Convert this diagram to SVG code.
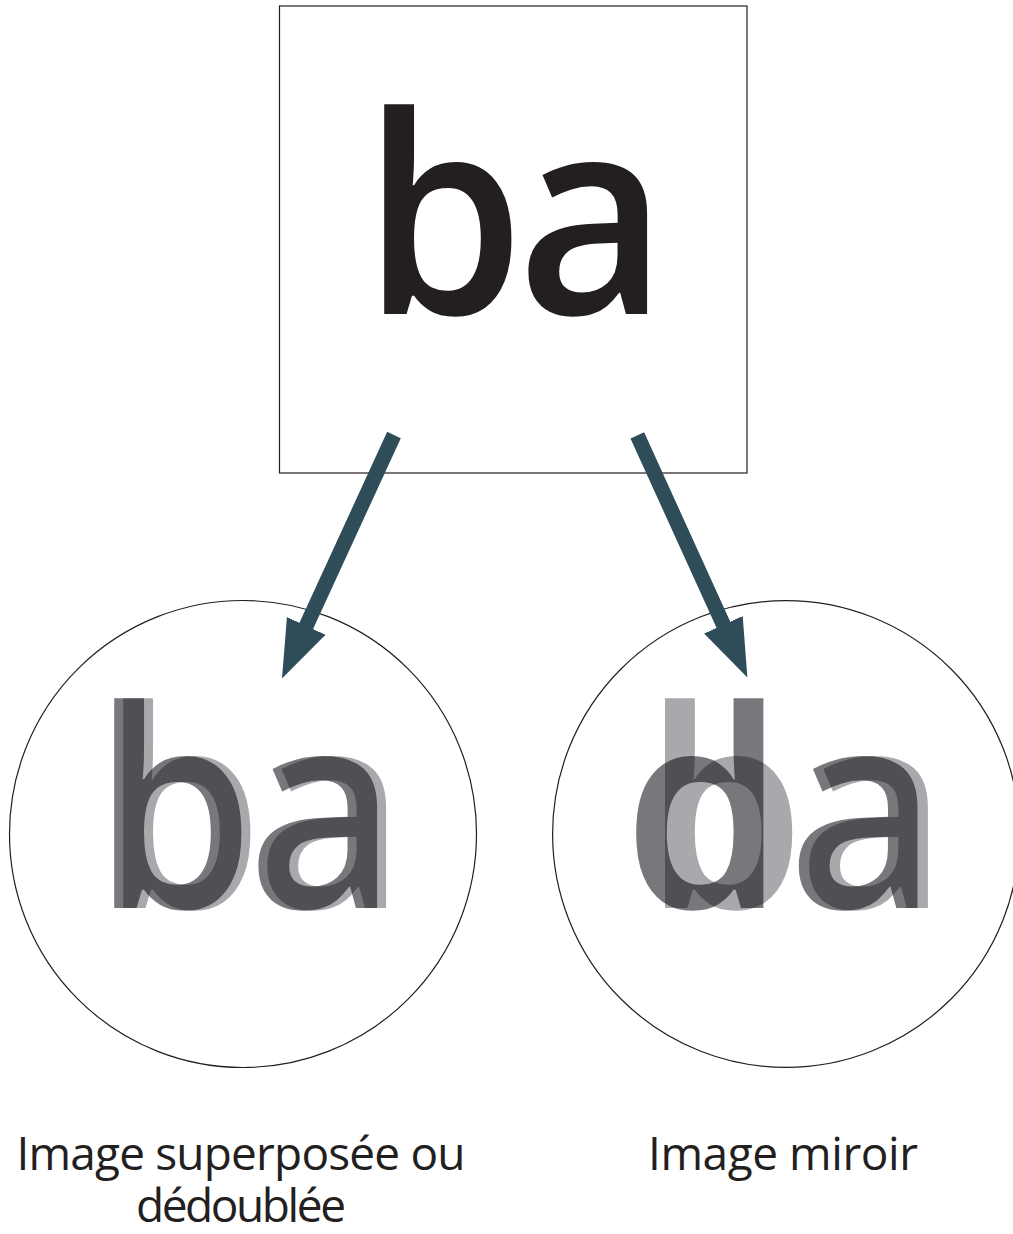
<svg xmlns="http://www.w3.org/2000/svg" width="1013" height="1234" viewBox="0 0 1013 1234">
<style>
.frame{fill:none;stroke:#231f20;stroke-width:1.2}
.big{font-family:"Open Sans","Noto Sans",sans-serif;font-size:276px;font-weight:600;letter-spacing:-8px}
.ink{fill:#231f20}
.mid{fill:#77787b;mix-blend-mode:multiply}
.light{fill:#a7a9ac;mix-blend-mode:multiply}
.label{font-family:"Open Sans","Noto Sans",sans-serif;font-size:46px;font-weight:500;fill:#231f20;text-anchor:middle}
.conn{stroke:#2f4d59;stroke-width:15;fill:none}
</style>
<defs>
<marker id="head" markerUnits="userSpaceOnUse" markerWidth="60" markerHeight="44" refX="1" refY="21.2" orient="auto" viewBox="0 0 60 44">
<path d="M0,0 L58,21.2 L0,42.4 Z" fill="#2f4d59"/>
</marker>
</defs>
<rect width="1013" height="1234" fill="#ffffff"/>
<g id="source">
<rect class="frame" x="279.5" y="6" width="467.5" height="467"/>
<text class="big ink" transform="translate(363 0) scale(0.94 1)" x="0" y="314">ba</text>
</g>
<g id="superposee">
<circle class="frame" cx="243" cy="834" r="233.5"/>
<g style="isolation:isolate">
<text class="big mid" transform="translate(93 0) scale(0.94 1)" x="0" y="908">ba</text>
<text class="big light" transform="translate(102 0) scale(0.94 1)" x="0" y="908">ba</text>
</g>
<text class="label" x="241" y="1170" textLength="449">Image superposée ou</text>
<text class="label" x="241" y="1222" textLength="210">dédoublée</text>
</g>
<g id="miroir">
<circle class="frame" cx="786" cy="834" r="233.4"/>
<g style="isolation:isolate">
<text class="big light" transform="translate(643.8 0) scale(0.94 1)" x="0" y="908">ba</text>
<text class="big mid" transform="translate(633.4 0) scale(0.94 1)" x="0" y="908"><tspan fill="none">b</tspan>a</text>
<text class="big mid" transform="translate(1418 0) scale(-1 1) translate(633.4 0) scale(0.94 1)" x="0" y="908">b</text>
</g>
<text class="label" x="783" y="1170" textLength="270">Image miroir</text>
</g>
<g id="connectors">
<line class="conn" x1="394" y1="435" x2="305.8" y2="626.8" marker-end="url(#head)"/>
<line class="conn" x1="637.3" y1="435.3" x2="723.8" y2="625.7" marker-end="url(#head)"/>
</g>
</svg>
